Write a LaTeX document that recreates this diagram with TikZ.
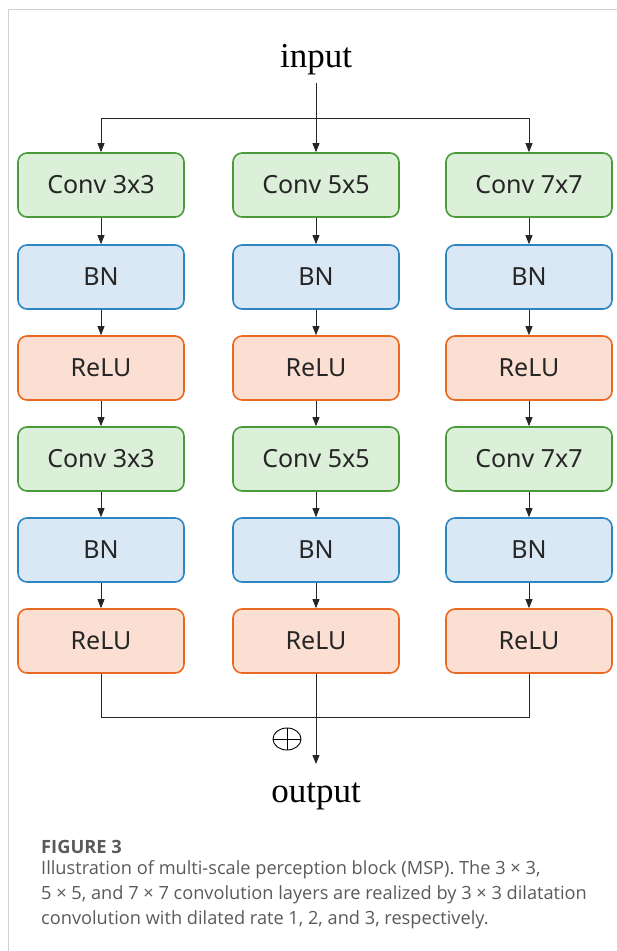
\documentclass[tikz,border=0pt]{standalone}
\usepackage{fontspec}
\setmainfont{Liberation Serif}
\newfontfamily\boxfont{Noto Sans}
\newfontfamily\capfont{Open Sans}
\usetikzlibrary{arrows.meta,shapes.geometric}
\definecolor{gfill}{HTML}{DCEFD9}
\definecolor{gdraw}{HTML}{4A9A3A}
\definecolor{bfill}{HTML}{DAE7F5}
\definecolor{bdraw}{HTML}{2E86C1}
\definecolor{ofill}{HTML}{FCDFD3}
\definecolor{odraw}{HTML}{E8691F}
\definecolor{captxt}{HTML}{5A5A5A}
\definecolor{framec}{HTML}{D0D0D0}
\tikzset{
  blk/.style={rounded corners=9pt, line width=1.6pt, minimum width=166pt, minimum height=64pt, inner sep=0pt, font=\boxfont\fontsize{25}{28}\selectfont, text=black!85},
  convb/.style={blk, draw=gdraw, fill=gfill},
  bnb/.style={blk, draw=bdraw, fill=bfill},
  relub/.style={blk, draw=odraw, fill=ofill},
  arr/.style={-{Triangle[length=9pt,width=7pt]}, line width=0.8pt, draw=black!85},
  ln/.style={line width=0.8pt, draw=black!85},
  io/.style={font=\fontsize{35}{38}\selectfont, inner sep=0pt, anchor=base}
}
\begin{document}
\begin{tikzpicture}[x=1pt,y=-1pt]
\useasboundingbox (0,0) rectangle (617,951);
\draw[framec, line width=1pt] (8,951) -- (8,9) -- (617,9);
\node[io] (in) at (316,67) {input};
\node[io] (out) at (316,802) {output};
\foreach \c/\x/\k in {a/101/3, b/316/5, c/529/7}{
  \node[convb] (\c1) at (\x,185) {Conv \k x\k};
  \node[bnb]   (\c2) at (\x,277) {BN};
  \node[relub] (\c3) at (\x,368) {ReLU};
  \node[convb] (\c4) at (\x,459) {Conv \k x\k};
  \node[bnb]   (\c5) at (\x,550) {BN};
  \node[relub] (\c6) at (\x,641) {ReLU};
  \draw[arr] (\c1) -- (\c2);
  \draw[arr] (\c2) -- (\c3);
  \draw[arr] (\c3) -- (\c4);
  \draw[arr] (\c4) -- (\c5);
  \draw[arr] (\c5) -- (\c6);
}
\coordinate (top) at (316,118);
\coordinate (bot) at (316,717);
\coordinate (end) at (316,764);
\coordinate (inl) at (316,83);
\draw[arr] (inl) -- (b1.north);
\draw[arr] (top) -| (a1.north);
\draw[arr] (top) -| (c1.north);
\draw[ln] (a6.south) |- (bot) -| (c6.south);
\draw[arr] (b6.south) -- (end);
\node[ellipse, draw=black, line width=0.9pt, minimum width=28pt, minimum height=22pt, inner sep=0pt] (sum) at (287,739) {};
\draw[line width=0.9pt] (sum.north) -- (sum.south) (sum.west) -- (sum.east);
\node[anchor=west, inner sep=0pt, text=captxt, font=\capfont\bfseries\fontsize{18.3}{20}\selectfont] (fig) at (41,847) {FIGURE 3};
\node[anchor=north west, inner sep=0pt, text=captxt, align=left, font=\capfont\fontsize{18.2}{25}\selectfont] (cap) at (41,860) {Illustration of multi-scale perception block (MSP). The 3 × 3,\\5 × 5, and 7 × 7 convolution layers are realized by 3 × 3 dilatation\\convolution with dilated rate 1, 2, and 3, respectively.};
\end{tikzpicture}
\end{document}
